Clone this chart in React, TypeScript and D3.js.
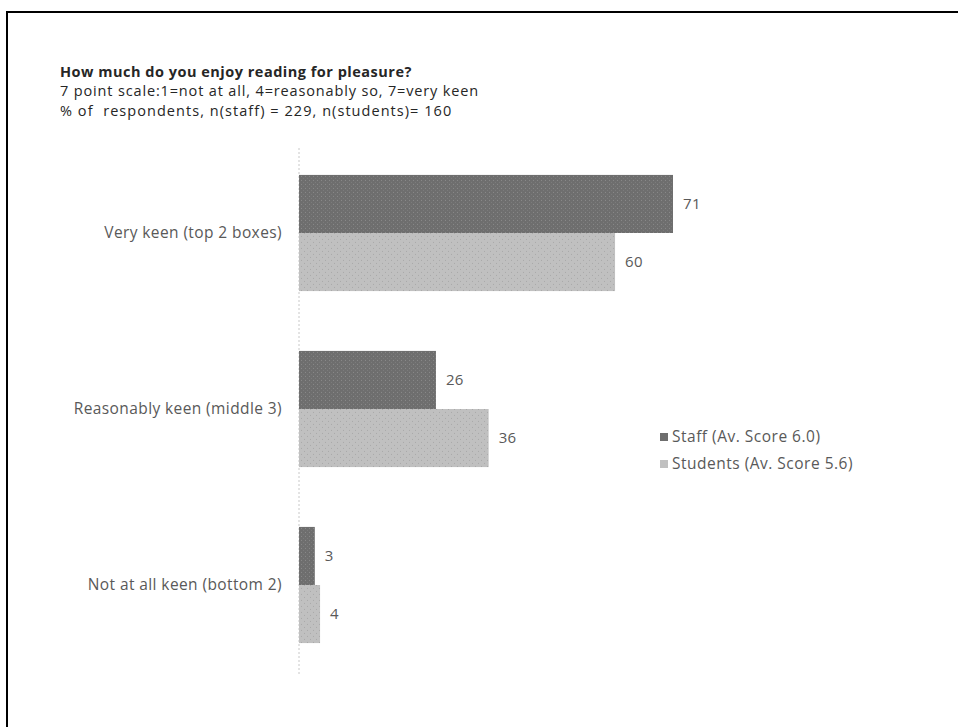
import React from "react";
import * as d3 from "d3";

const categories = ["Very keen (top 2 boxes)", "Reasonably keen (middle 3)", "Not at all keen (bottom 2)"];
const seriesNames = ["Staff (Av. Score 6.0)", "Students (Av. Score 5.6)"];
const staffValues = [71, 26, 3];
const studentValues = [60, 36, 4];
const titleLines = [
  "How much do you enjoy reading for pleasure?",
  "7 point scale:1=not at all, 4=reasonably so, 7=very keen",
  "% of \u00a0respondents, n(staff) = 229, n(students)= 160",
];

const FONT = "'Open Sans', sans-serif";

export default function App() {
  const W = 958, H = 727;
  const x0 = 299;
  const x = d3.scaleLinear().domain([0, 71]).range([x0, 673]);
  const y = d3.scaleBand().domain(categories).range([145, 673]).paddingInner(0.34).paddingOuter(0.17);
  const sub = d3.scaleBand().domain(["staff", "students"]).range([0, y.bandwidth()]);
  const colors = ["url(#patStaff)", "url(#patStud)"];
  const series = [staffValues, studentValues];
  const keys = ["staff", "students"];
  const titleSpacing = [0.5, 0.85, 1.05];

  return (
    <svg width={W} height={H} style={{ position: "absolute", left: 0, top: 0, background: "#fff" }}>
      <defs>
        <pattern id="patStaff" width="4" height="4" patternUnits="userSpaceOnUse">
          <rect width="4" height="4" fill="#6e6e6e" />
          <rect x="1" y="1" width="1" height="1" fill="#8a8a8a" />
          <rect x="3" y="3" width="1" height="1" fill="#7c7c7c" />
        </pattern>
        <pattern id="patStud" width="6" height="6" patternUnits="userSpaceOnUse">
          <rect width="6" height="6" fill="#c0c0c0" />
          <rect x="1" y="1" width="1" height="1" fill="#a8a8a8" />
          <rect x="4" y="4" width="1" height="1" fill="#a8a8a8" />
        </pattern>
      </defs>
      <rect x={7} y={12} width={1000} height={800} fill="none" stroke="#000" strokeWidth={2} />
      <g fontFamily={FONT} fill="#262626">
        {titleLines.map((t, i) => (
          <text key={i} x={60} y={76.5 + i * 19.75} fontSize={14.5} fontWeight={i === 0 ? "bold" : "normal"}
            letterSpacing={titleSpacing[i]}>{t}</text>
        ))}
      </g>
      <line x1={x0} x2={x0} y1={148} y2={675} stroke="#c8c8c8" strokeDasharray="2,2" />
      {categories.map((c, i) => (
        <g key={c} transform={`translate(0,${y(c)})`}>
          {series.map((s, j) => {
            const yy = sub(keys[j])!;
            const h = sub.bandwidth();
            return (
              <g key={j}>
                <rect x={x0} y={yy} width={x(s[i]) - x0} height={h} fill={colors[j]} />
                <text x={x(s[i]) + 10} y={yy + h / 2} dy="0.35em" fontFamily={FONT} fontSize={15} letterSpacing={0.3} fill="#595959">{s[i]}</text>
              </g>
            );
          })}
          <text x={282} y={y.bandwidth() / 2} dy="0.35em" textAnchor="end" fontFamily={FONT} fontSize={15.5} letterSpacing={0.4} fill="#595959">{c}</text>
        </g>
      ))}
      {seriesNames.map((n, j) => (
        <g key={n} transform={`translate(660,${437 + j * 27})`}>
          <rect x={0} y={-4} width={8} height={8} fill={j === 0 ? "#6e6e6e" : "#c0c0c0"} />
          <text x={12} y={0} dy="0.35em" fontFamily={FONT} fontSize={15.5} letterSpacing={0.5} fill="#595959">{n}</text>
        </g>
      ))}
    </svg>
  );
}
